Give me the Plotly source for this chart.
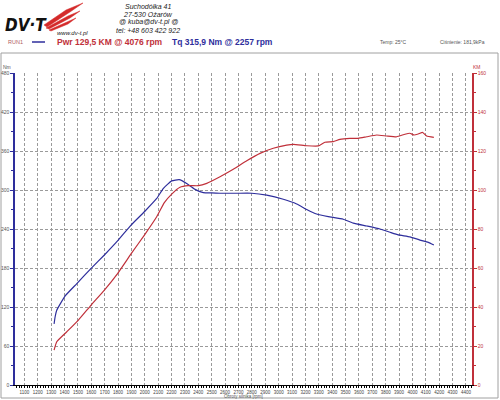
import plotly.graph_objects as go

# ---- data ----
tq_rpm = [1322, 1330, 1342, 1405, 1492, 1599, 1698, 1798, 1897, 1997, 2089, 2139, 2201, 2257, 2313, 2375,
          2437, 2500, 2562, 2687, 2799, 2911, 3035, 3135, 3210, 3284, 3371, 3483, 3558, 3658, 3757,
          3832, 3894, 3981, 4056, 4118, 4160]
tq_nm = [94, 105, 115, 137, 156, 179.5, 200, 222, 246, 266.6, 287, 302.6, 314, 315.9, 310, 301,
         296, 295.5, 295, 295, 295, 292, 285.7, 278.5, 270, 263, 259, 255, 249, 244.6, 240,
         235, 231, 228, 223, 219.5, 215.4]

pw_rpm = [1322, 1342, 1417, 1504, 1599, 1698, 1798, 1897, 1997, 2089, 2146, 2201, 2263, 2325, 2400,
          2463, 2562, 2661, 2762, 2861, 2960, 3060, 3110, 3210, 3296, 3346, 3408, 3458, 3533, 3595,
          3658, 3733, 3807, 3882, 3944, 3981, 4011, 4043, 4076, 4106, 4160]
pw_km = [17.9, 22.2, 27.3, 33.3, 41, 48.7, 57.3, 67.2, 76.9, 86.3, 93.5, 97.9, 101.4, 102.2, 102.2,
         103.4, 106.8, 110.6, 115, 118.8, 121.4, 123, 123.4, 122.7, 122.6, 124.5, 124.8, 126, 126.5, 126.5,
         127.3, 128.2, 127.7, 127.3, 128.6, 129.1, 128.2, 128.7, 129.5, 127.7, 127]

x_range = [1030, 4445]
nm_range = [0, 480]
km_range = [0, 160]

address = ["Suchodółka 41", "27-530 Ożarów", "@ kuba@dv-t.pl @", "tel: +48 603 422 922"]
pwr_label = "Pwr 129,5 KM @ 4076 rpm"
tq_label = "Tq 315,9 Nm @ 2257 rpm"
temp_label = "Temp: 25°C"
press_label = "Ciśnienie: 181,9kPa"
x_title = "Obroty silnika [rpm]"

BLUE = "#2e2e9c"
RED = "#c0303a"
FONT = "Liberation Sans, Arial, sans-serif"

W, H = 500, 400
L, R, T, B = 15, 472, 73, 385  # plot area pixel box


def px(x):
    return (x - L) / (R - L)


def py(y):
    return (B - y) / (B - T)


fig = go.Figure()
fig.add_trace(go.Scatter(x=tq_rpm, y=tq_nm, mode="lines", line=dict(color=BLUE, width=1.2, shape="spline", smoothing=0.4),
                         yaxis="y", showlegend=False, hoverinfo="skip"))
fig.add_trace(go.Scatter(x=pw_rpm, y=pw_km, mode="lines", line=dict(color=RED, width=1.2, shape="spline", smoothing=0.4),
                         yaxis="y2", showlegend=False, hoverinfo="skip"))

grid = dict(showgrid=True, gridcolor="#9a9a9a", gridwidth=1, griddash="3px,2px")

fig.update_layout(
    width=W, height=H,
    margin=dict(l=L, r=W - R, t=T, b=H - B, pad=0, autoexpand=False),
    paper_bgcolor="white", plot_bgcolor="white",
    font=dict(family=FONT, size=5, color="#555"),
    xaxis=dict(range=x_range, dtick=100, tick0=0, **grid, automargin=False, tickangle=0,
               showline=True, linecolor="black", linewidth=1.2,
               ticks="outside", ticklen=2, tickcolor="black", tickwidth=1,
               tickfont=dict(size=4.5, color="#444"),
               minor=dict(dtick=20, ticks="outside", ticklen=2, tickcolor="black", showgrid=False),
               zeroline=False, fixedrange=True),
    yaxis=dict(range=nm_range, dtick=60, **grid, automargin=False,
               showline=True, linecolor=BLUE, linewidth=1.5,
               ticks="outside", ticklen=3, tickcolor=BLUE,
               minor=dict(dtick=30, ticks="outside", ticklen=2, tickcolor=BLUE),
               tickfont=dict(size=5, color="#555"), zeroline=False, fixedrange=True),
    yaxis2=dict(range=km_range, dtick=20, overlaying="y", side="right", showgrid=False, automargin=False,
                showline=True, linecolor=RED, linewidth=1.5,
                ticks="outside", ticklen=3, tickcolor=RED,
                minor=dict(dtick=10, ticks="outside", ticklen=2, tickcolor=RED),
                tickfont=dict(size=5, color=RED), zeroline=False, fixedrange=True),
)

shapes = []
# outer frame
shapes.append(dict(type="rect", xref="paper", yref="paper", x0=px(1), x1=px(498), y0=py(398), y1=py(53),
                   line=dict(color="#a0a0a0", width=1), layer="below"))
# RUN1 legend line
shapes.append(dict(type="line", xref="paper", yref="paper", x0=px(32), x1=px(45), y0=py(42), y1=py(42),
                   line=dict(color=BLUE, width=1.5)))
# logo wing (red feathers)
wing = [
    "M 44 25 L 66 10 L 83 3 L 70 12 L 47 27 Z",
    "M 46 28 L 68 16 L 80 11 L 70 18 L 49 29 Z",
    "M 49 30 L 67 22 L 76 18 L 68 24 L 51 31 Z",
]


def wing_path(d):
    toks = d.split()
    out = []
    i = 0
    while i < len(toks):
        t = toks[i]
        if t in ("M", "L"):
            x = float(toks[i + 1]); y = float(toks[i + 2])
            out.append(f"{t} {px(x):.5f} {py(y):.5f}")
            i += 3
        else:
            out.append(t)
            i += 1
    return " ".join(out)


for d in wing:
    shapes.append(dict(type="path", xref="paper", yref="paper", path=wing_path(d),
                       fillcolor="#d42a2a", line=dict(color="#d42a2a", width=0.5)))

ann = []


def text(x, y, s, size=5, color="#555", xanchor="left", bold=False, italic=False, family=FONT):
    if bold:
        s = f"<b>{s}</b>"
    if italic:
        s = f"<i>{s}</i>"
    ann.append(dict(x=px(x), y=py(y), xref="paper", yref="paper", text=s, showarrow=False,
                    xanchor=xanchor, yanchor="middle", font=dict(size=size, color=color, family=family)))


# logo
text(3, 25, "DV·T", size=17, color="#111", bold=True, italic=True,
     family="DejaVu Sans Condensed, Liberation Sans Narrow, Arial")
text(55, 33, "www.dv-t.pl", size=6, color="#222", italic=True)
# address
for i, line in enumerate(address):
    text(148, 6.5 + i * 8, line, size=7, color="#222", xanchor="center", italic=True)
# legend row
text(6, 42, "RUN1", size=5.5, color="#b06060")
text(55, 42, pwr_label, size=8.5, color=RED, bold=True)
text(170, 42, tq_label, size=8.5, color=BLUE, bold=True)
text(378, 42, temp_label, size=5, color="#555")
text(438, 42, press_label, size=5, color="#555")
# axis titles
text(7, 67, "Nm", size=5, color="#555", xanchor="center")
text(477, 67, "KM", size=5, color=RED, xanchor="center")
text(243, 396.5, x_title, size=4.5, color="#555", xanchor="center")

fig.update_layout(shapes=shapes, annotations=ann)
fig.write_html("out.html", config={"displayModeBar": False},
               post_script="document.body.style.margin='0';document.body.style.padding='0';")
